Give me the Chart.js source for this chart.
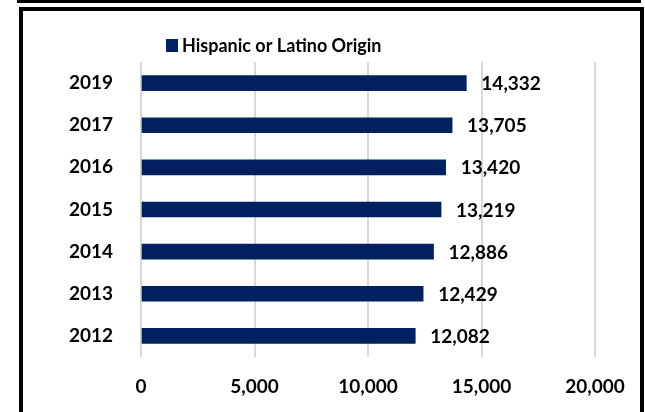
<!DOCTYPE html>
<html>
<head>
<meta charset="utf-8">
<script src="https://cdn.jsdelivr.net/npm/chart.js@4"></script>
<style>
  html, body { margin: 0; padding: 0; background: #fff; }
  #wrap { position: relative; width: 645px; height: 412px; overflow: hidden; }
  #topLine { position: absolute; left: 17px; top: 0; width: 624px; height: 3px; background: #000; }
  #frame { position: absolute; left: 19px; top: 7px; width: 617px; height: 420px; border: 4px solid #000; }
  canvas { position: absolute; left: 0; top: 0; }
</style>
</head>
<body>
<div id="wrap">
  <div id="topLine"></div>
  <div id="frame"></div>
  <canvas id="hispanicChart" width="645" height="412"></canvas>
</div>
<script>
// Data
const years = ["2019", "2017", "2016", "2015", "2014", "2013", "2012"]
const population = [14332, 13705, 13420, 13219, 12886, 12429, 12082]
const xTickValues = [0, 5000, 10000, 15000, 20000]
const seriesName = "Hispanic or Latino Origin"

const navy = "#002060"
const fontFamily = "Lato, 'Open Sans', sans-serif"

// Legend drawn by hand so it can sit where Excel put it
const legendPlugin = {
  id: "manualLegend",
  afterDraw(chart) {
    const ctx = chart.ctx
    const ds = chart.data.datasets[0]
    ctx.save()
    ctx.fillStyle = ds.backgroundColor
    ctx.fillRect(166, 39, 12, 13)
    ctx.fillStyle = "#000"
    ctx.font = "bold 18px " + fontFamily
    ctx.textBaseline = "middle"
    ctx.textAlign = "left"
    ctx.fillText(ds.label, 182, 46)
    ctx.restore()
  },
}

// Value labels at the end of each bar
const valueLabels = {
  id: "valueLabels",
  afterDatasetsDraw(chart) {
    const ctx = chart.ctx
    const meta = chart.getDatasetMeta(0)
    ctx.save()
    ctx.fillStyle = "#000"
    ctx.font = "bold 19px " + fontFamily
    ctx.textBaseline = "middle"
    ctx.textAlign = "left"
    meta.data.forEach((bar, i) => {
      const v = chart.data.datasets[0].data[i]
      ctx.fillText(v.toLocaleString("en-US"), bar.x + 15, bar.y + 1)
    })
    ctx.restore()
  },
}

const ctx = document.getElementById("hispanicChart")
new Chart(ctx, {
  type: "bar",
  data: {
    labels: years,
    datasets: [
      {
        label: seriesName,
        data: population,
        backgroundColor: navy,
        borderWidth: 0,
        barThickness: 15,
      },
    ],
  },
  options: {
    indexAxis: "y",
    responsive: false,
    animation: false,
    layout: {
      padding: { top: 62, right: 50, bottom: 0, left: 0 },
    },
    plugins: {
      legend: { display: false },
      tooltip: { enabled: false },
    },
    scales: {
      x: {
        min: 0,
        max: 20000,
        afterBuildTicks: (scale) => {
          scale.ticks = xTickValues.map((v) => ({ value: v }))
        },
        afterFit: (scale) => {
          scale.height = 55
        },
        grid: { color: "#d9d9d9", lineWidth: 2, drawTicks: false },
        border: { display: false },
        ticks: {
          padding: 18,
          color: "#000",
          font: { family: fontFamily, size: 19, weight: "bold" },
          callback: (value) => value.toLocaleString("en-US"),
        },
      },
      y: {
        afterFit: (scale) => {
          scale.width = 141
        },
        grid: { display: false },
        border: { display: false },
        ticks: {
          padding: 20,
          color: "#000",
          font: { family: fontFamily, size: 19, weight: "bold" },
        },
      },
    },
  },
  plugins: [legendPlugin, valueLabels],
})
</script>
</body>
</html>
